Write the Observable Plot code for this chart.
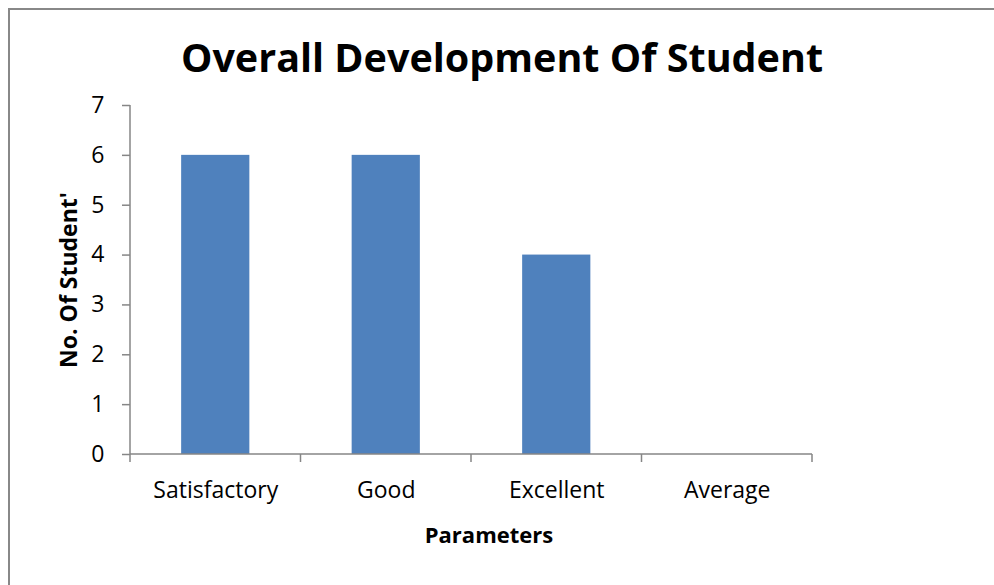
<!DOCTYPE html>
<html>
<head>
<meta charset="utf-8">
<script src="https://cdn.jsdelivr.net/npm/d3@7"></script>
<script src="https://cdn.jsdelivr.net/npm/@observablehq/plot@0.6"></script>
<style>
  body { margin: 0; background: #fff; }
  #wrap { position: relative; width: 994px; height: 585px; overflow: hidden; font-family: "Open Sans", sans-serif; background: #fff; }
  #frame { position: absolute; left: 8px; top: 8px; width: 1100px; height: 700px; border-left: 2px solid #888; border-top: 2px solid #888; }
  #title { position: absolute; left: 0; width: 1004px; top: 30px; line-height: normal; text-align: center; font-weight: bold; font-size: 39.5px; color: #000; white-space: nowrap; }
  #ylabel { position: absolute; left: 68px; top: 280px; transform: translate(-50%, -50%) rotate(-90deg); font-weight: bold; font-size: 23px; white-space: nowrap; color: #000; }
  #xlabel { position: absolute; left: 0; width: 978px; top: 519px; line-height: normal; text-align: center; font-weight: bold; font-size: 22px; color: #000; }
  #chart { position: absolute; left: 0; top: 0; }
</style>
</head>
<body>
<div id="wrap">
  <div id="frame"></div>
  <div id="chart"></div>
  <div id="title">Overall Development Of Student</div>
  <div id="ylabel">No. Of Student'</div>
  <div id="xlabel">Parameters</div>
</div>
<script>
const categories = ["Satisfactory", "Good", "Excellent", "Average"];
const values = [6, 6, 4, 0];
const yTicks = [0, 1, 2, 3, 4, 5, 6, 7];

const data = categories.map((c, i) => ({category: c, value: values[i]}));

function axisFrame(index, scales, vals, dimensions) {
  const x = scales.x, y = scales.y;
  const step = x.step(), bw = x.bandwidth();
  const half = (step - bw) / 2;
  const bounds = categories.map(c => x(c) - half);
  bounds.push(x(categories[categories.length - 1]) + bw + half);
  const y0 = y(0), yTop = y(yTicks[yTicks.length - 1]);
  const g = d3.create("svg:g").attr("stroke", "#868686").attr("stroke-width", 1.5).attr("fill", "none");
  g.append("line").attr("x1", bounds[0]).attr("x2", bounds[0]).attr("y1", yTop).attr("y2", y0);
  g.append("line").attr("x1", bounds[0]).attr("x2", bounds[bounds.length - 1]).attr("y1", y0).attr("y2", y0);
  for (const b of bounds) {
    g.append("line").attr("x1", b).attr("x2", b).attr("y1", y0).attr("y2", y0 + 8);
  }
  return g.node();
}

const chart = Plot.plot({
  width: 994,
  height: 585,
  marginLeft: 130,
  marginRight: 182,
  marginTop: 105,
  marginBottom: 131,
  style: {fontFamily: "Open Sans, sans-serif", fontSize: "23px", color: "#000", background: "transparent"},
  x: {domain: categories, paddingInner: 0.6, paddingOuter: 0.3, round: false, label: null},
  y: {domain: [0, 7], label: null},
  marks: [
    Plot.barY(data, {x: "category", y: "value", fill: "#4F81BD"}),
    Plot.axisY({ticks: yTicks, tickFormat: d3.format("d"), tickSize: 8, tickPadding: 18, stroke: "#868686", strokeWidth: 1.5, label: null}),
    Plot.axisX({tickSize: 0, tickPadding: 27, label: null}),
    axisFrame
  ]
});
document.getElementById("chart").appendChild(chart);
</script>
</body>
</html>
